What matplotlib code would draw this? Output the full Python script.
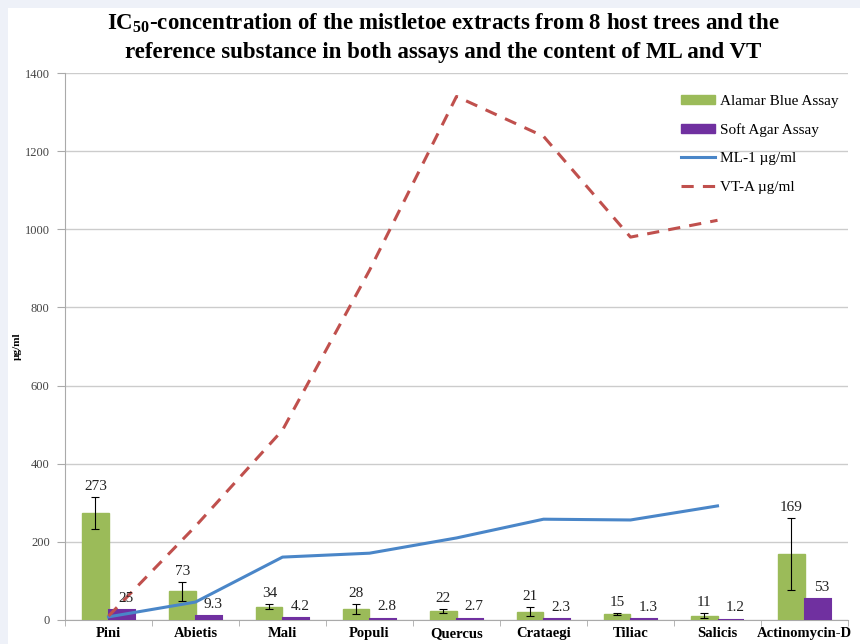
import numpy as np
import matplotlib
matplotlib.use("Agg")
from matplotlib import pyplot as plt
from matplotlib.patches import Patch, Rectangle
from matplotlib.lines import Line2D

# host trees + reference substance
hosts = ["Pini", "Abietis", "Mali", "Populi", "Quercus", "Crataegi", "Tiliac", "Salicis", "Actinomycin-D"]
alamar = [273, 73, 34, 28, 22, 21, 15, 11, 169]
alamar_err = [41, 24, 6, 12, 5, 12, 3, 6, 92]
softagar = [25, 9.3, 4.2, 2.8, 2.7, 2.3, 1.3, 1.2, 53]
alamar_lbl = ["273", "73", "34", "28", "22", "21", "15", "11", "169"]
softagar_lbl = ["25", "9.3", "4.2", "2.8", "2.7", "2.3", "1.3", "1.2", "53"]
# lectin / viscotoxin content, only for the 8 extracts
ml1 = [8, 46, 161, 171, 210, 258, 256, 292]
vta = [10, 240, 486, 895, 1340, 1238, 980, 1023]

green = "#9bbb59"
purple = "#7030a0"
blue = "#4a86c8"
red = "#c0504d"
serif = ["Liberation Serif", "DejaVu Serif"]
plt.rcParams["mathtext.fontset"] = "custom"
plt.rcParams["mathtext.rm"] = "Liberation Serif:bold"
plt.rcParams["mathtext.bf"] = "Liberation Serif:bold"

fig = plt.figure(figsize=(8.6, 6.44), dpi=100, facecolor="#eef1f8")
fig.patches.append(Rectangle((8/860, 0), 1, 1 - 8/644, transform=fig.transFigure,
                             facecolor="white", edgecolor="none", zorder=-5))
ax = fig.add_axes([65/860, 1 - 620/644, 783/860, 547/644])
ax.set_facecolor("none")

x = np.arange(len(hosts))
w = 0.3
ax.bar(x - w/2, alamar, w, color=green, edgecolor=green, lw=1, zorder=3)
ax.errorbar(x - w/2, alamar, yerr=alamar_err, fmt="none", ecolor="black",
            elinewidth=0.8, capsize=3, capthick=0.8, zorder=4)
ax.bar(x + w/2, softagar, w, color=purple, edgecolor=purple, lw=1.5, zorder=3)

for i in range(len(hosts)):
    ax.annotate(alamar_lbl[i], (x[i] - w/2, alamar[i] + alamar_err[i]), xytext=(0, 3),
                textcoords="offset points", ha="center", va="bottom",
                fontsize=11, family=serif, color="#222222", zorder=5)
    ax.annotate(softagar_lbl[i], (x[i] + w/2 + 0.05, softagar[i]), xytext=(0, 4),
                textcoords="offset points", ha="center", va="bottom",
                fontsize=11, family=serif, color="#222222", zorder=5)

xl = np.arange(len(ml1))
ax.plot(xl, ml1, color=blue, lw=2.2, zorder=4)
ax.plot(xl, vta, color=red, lw=2.2, dashes=(4, 3), zorder=4)

ax.set_xlim(-0.5, len(hosts) - 0.5)
ax.set_ylim(0, 1400)
ax.set_yticks(np.arange(0, 1401, 200))
ax.yaxis.grid(True, color="#cccccc", lw=1, zorder=0)
ax.set_axisbelow(True)
ax.set_xticks(x)
ax.set_xticklabels(hosts, family=serif, fontweight="bold", fontsize=10.5)
ax.set_xticks(np.arange(-0.5, len(hosts)), minor=True)
ax.tick_params(axis="x", which="major", length=0, pad=5)
ax.tick_params(axis="x", which="minor", length=4, color="#aaaaaa")
ax.tick_params(axis="y", length=6, color="#aaaaaa", labelsize=9, pad=5)
for t in ax.get_yticklabels():
    t.set_family(serif)
    t.set_color("#444444")
for s in ["top", "right"]:
    ax.spines[s].set_visible(False)
for s in ["left", "bottom"]:
    ax.spines[s].set_color("#aaaaaa")

ax.set_ylabel("µg/ml", family=serif, fontweight="bold", fontsize=8)
ax.yaxis.set_label_coords(-0.055, 0.5)

handles = [Patch(color=green), Patch(color=purple),
           Line2D([], [], color=blue, lw=2.2),
           Line2D([], [], color=red, lw=2.2, dashes=(4, 3))]
labels = ["Alamar Blue Assay", "Soft Agar Assay", "ML-1 µg/ml", "VT-A µg/ml"]
ax.legend(handles, labels, loc="upper right", bbox_to_anchor=(1.005, 0.985), frameon=False,
          prop={"family": serif, "size": 11}, labelspacing=1.0, handlelength=2.2,
          handleheight=0.5, handletextpad=0.3)

fig.text(0.515, 0.982, "IC$_{\\mathbf{50}}$-concentration of the mistletoe extracts from 8 host trees and the\n"
         "reference substance in both assays and the content of ML and VT",
         ha="center", va="top", family=serif, fontweight="bold", fontsize=16.5, linespacing=1.4)

fig.savefig("out.png", dpi=100, facecolor=fig.get_facecolor())
